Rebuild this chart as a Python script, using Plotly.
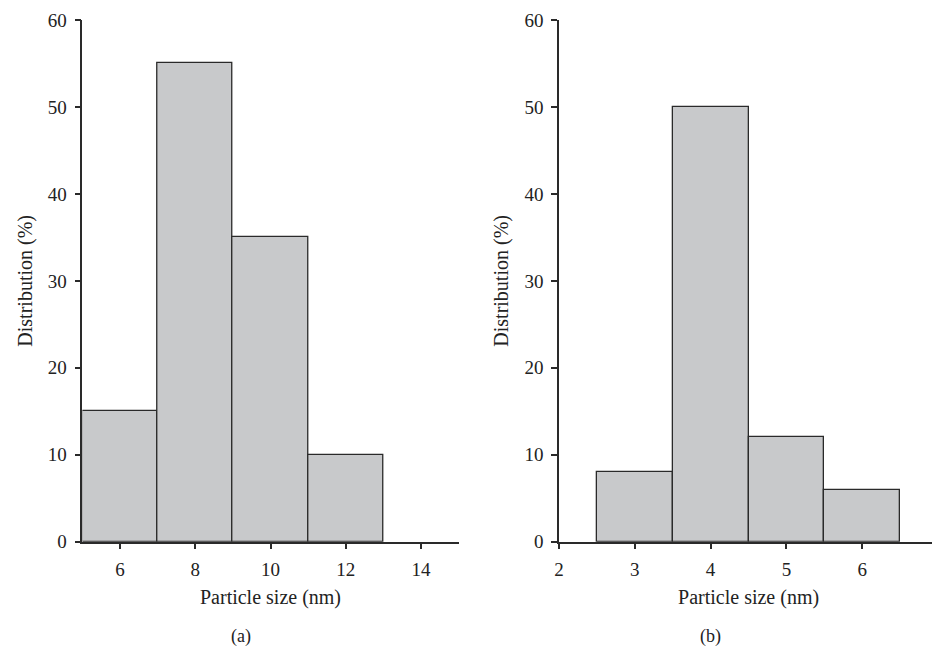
import plotly.graph_objects as go

# Data
sizes_a = [6, 8, 10, 12]
dist_a = [15, 55, 35, 10]
sizes_b = [3, 4, 5, 6]
dist_b = [8, 50, 12, 6]
xticks_a = [6, 8, 10, 12, 14]
xticks_b = [2, 3, 4, 5, 6, 7]
yticks = [0, 10, 20, 30, 40, 50, 60]

FONT = "Liberation Serif"
BAR = "#c8c9cb"
LINE = "#2a2a2a"
FS = 19

# page body has an 8px margin; figure is sized to fit the window
W, H = 932, 639
OFF = 8

def px(x):
    return (x - OFF) / W

def py(y):
    return 1 - (y - OFF) / H

fig = go.Figure()
fig.add_trace(go.Bar(x=sizes_a, y=dist_a, width=2, marker=dict(color=BAR, line=dict(color=LINE, width=1.3)),
                     xaxis="x", yaxis="y", showlegend=False))
fig.add_trace(go.Bar(x=sizes_b, y=dist_b, width=1, marker=dict(color=BAR, line=dict(color=LINE, width=1.3)),
                     xaxis="x2", yaxis="y2", showlegend=False))

ax_common = dict(showgrid=False, zeroline=False, showline=True, linecolor=LINE, linewidth=1.5,
                 ticks="outside", ticklen=6, tickwidth=1.5, tickcolor=LINE, automargin=False,
                 ticklabeloverflow="allow",
                 tickfont=dict(family=FONT, size=FS, color="#222"))
ydom = [py(541.7), py(20)]
tfont = dict(family=FONT, size=20, color="#222")

fig.update_layout(
    width=W, height=H, margin=dict(l=0, r=0, t=0, b=0),
    plot_bgcolor="white", paper_bgcolor="white", bargap=0,
    font=dict(family=FONT, size=FS, color="#222"),
    xaxis=dict(domain=[px(82.4), px(458.6)], range=[5, 15], tickvals=xticks_a,
               title=dict(text="Particle size (nm)", standoff=11, font=tfont),
               anchor="y", ticklabelstandoff=4, **ax_common),
    yaxis=dict(domain=ydom, range=[0, 60], tickvals=yticks,
               title=dict(text="Distribution (%)", standoff=10, font=tfont),
               anchor="x", ticklabelstandoff=4, **ax_common),
    xaxis2=dict(domain=[px(559), px(938.2)], range=[2, 7.002], tickvals=xticks_b,
                title=dict(text="Particle size (nm)", standoff=11, font=tfont),
                anchor="y2", ticklabelstandoff=4, **ax_common),
    yaxis2=dict(domain=ydom, range=[0, 60], tickvals=yticks,
                title=dict(text="Distribution (%)", standoff=10, font=tfont),
                anchor="x2", ticklabelstandoff=4, **ax_common),
    annotations=[
        dict(text="(a)", x=px(241), y=py(636), xref="paper", yref="paper", showarrow=False,
             font=dict(family=FONT, size=18, color="#222"), xanchor="center", yanchor="middle"),
        dict(text="(b)", x=px(710), y=py(636), xref="paper", yref="paper", showarrow=False,
             font=dict(family=FONT, size=18, color="#222"), xanchor="center", yanchor="middle"),
    ],
)

fig.write_html("out.html")
